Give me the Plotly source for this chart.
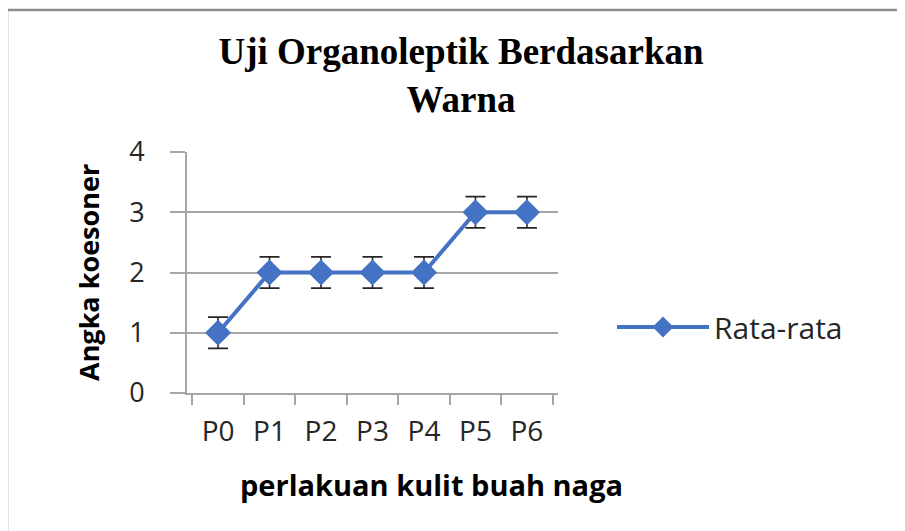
import plotly.graph_objects as go

categories = ["P0", "P1", "P2", "P3", "P4", "P5", "P6"]
rata_rata = [1, 2, 2, 2, 2, 3, 3]
error_vals = [0.26, 0.26, 0.26, 0.26, 0.26, 0.26, 0.26]
y_ticks = [0, 1, 2, 3, 4]

W, H = 905, 531
OFF = 8  # page body margin compensation
L, R, T, B = 187 - OFF, 558 - OFF, 152 - OFF, 393 - OFF  # plot area in figure px

def px_x(p):
    return (p - OFF - L) / (R - L)

def px_y(p):
    return (B - (p - OFF)) / (B - T)

blue = "#4472C4"
grid = "#A6A6A6"

fig = go.Figure()
fig.add_trace(go.Scatter(
    x=categories, y=rata_rata, name="Rata-rata",
    mode="lines+markers",
    line=dict(color=blue, width=4),
    marker=dict(symbol="diamond", size=20, color=blue),
    error_y=dict(type="data", array=error_vals, visible=True,
                 color="#262626", thickness=1.6, width=10),
))

fig.update_layout(
    width=W, height=H,
    margin=dict(l=L, r=W - R, t=T, b=H - B, autoexpand=False),
    paper_bgcolor="white", plot_bgcolor="white",
    showlegend=True,
    legend=dict(x=px_x(612), y=px_y(327), xanchor="left", yanchor="middle",
                font=dict(family="Open Sans", size=30, color="#262626"),
                itemwidth=92, bgcolor="rgba(0,0,0,0)"),
    title=dict(text="Uji Organoleptik Berdasarkan<br>Warna",
               x=(461 - OFF) / W, xref="container", xanchor="center",
               y=1 - (64 - OFF) / H, yref="container", yanchor="middle",
               font=dict(family="Liberation Serif", size=37, color="black",
                         weight="bold")),
    xaxis=dict(type="category", tickson="boundaries", ticks="outside",
               ticklen=10, tickwidth=2, tickcolor=grid,
               showline=True, linecolor=grid, linewidth=2,
               showgrid=False, ticklabelstandoff=12,
               tickfont=dict(family="Open Sans", size=28, color="#262626")),
    yaxis=dict(range=[0, 4], tickvals=y_ticks, ticks="outside",
               ticklen=15, tickwidth=2, tickcolor=grid,
               showline=True, linecolor=grid, linewidth=2,
               showgrid=True, gridcolor=grid, gridwidth=2, zeroline=False,
               ticklabelstandoff=20,
               tickfont=dict(family="Open Sans", size=27, color="#262626")),
    annotations=[
        dict(text="<b>Angka koesoner</b>", textangle=-90,
             x=px_x(88), y=px_y(273), xref="paper", yref="paper",
             xanchor="center", yanchor="middle", showarrow=False,
             font=dict(family="Open Sans", size=27, color="black")),
        dict(text="<b>perlakuan kulit buah naga</b>",
             x=px_x(431), y=px_y(484), xref="paper", yref="paper",
             xanchor="center", yanchor="middle", showarrow=False,
             font=dict(family="Open Sans", size=29, color="black")),
    ],
    shapes=[
        dict(type="rect", xref="paper", yref="paper",
             x0=px_x(7), x1=px_x(960), y0=px_y(600), y1=px_y(10),
             line=dict(color="#8C8C8C", width=2.5), fillcolor="rgba(0,0,0,0)",
             layer="below"),
    ],
)

fig.write_html("out.html")
